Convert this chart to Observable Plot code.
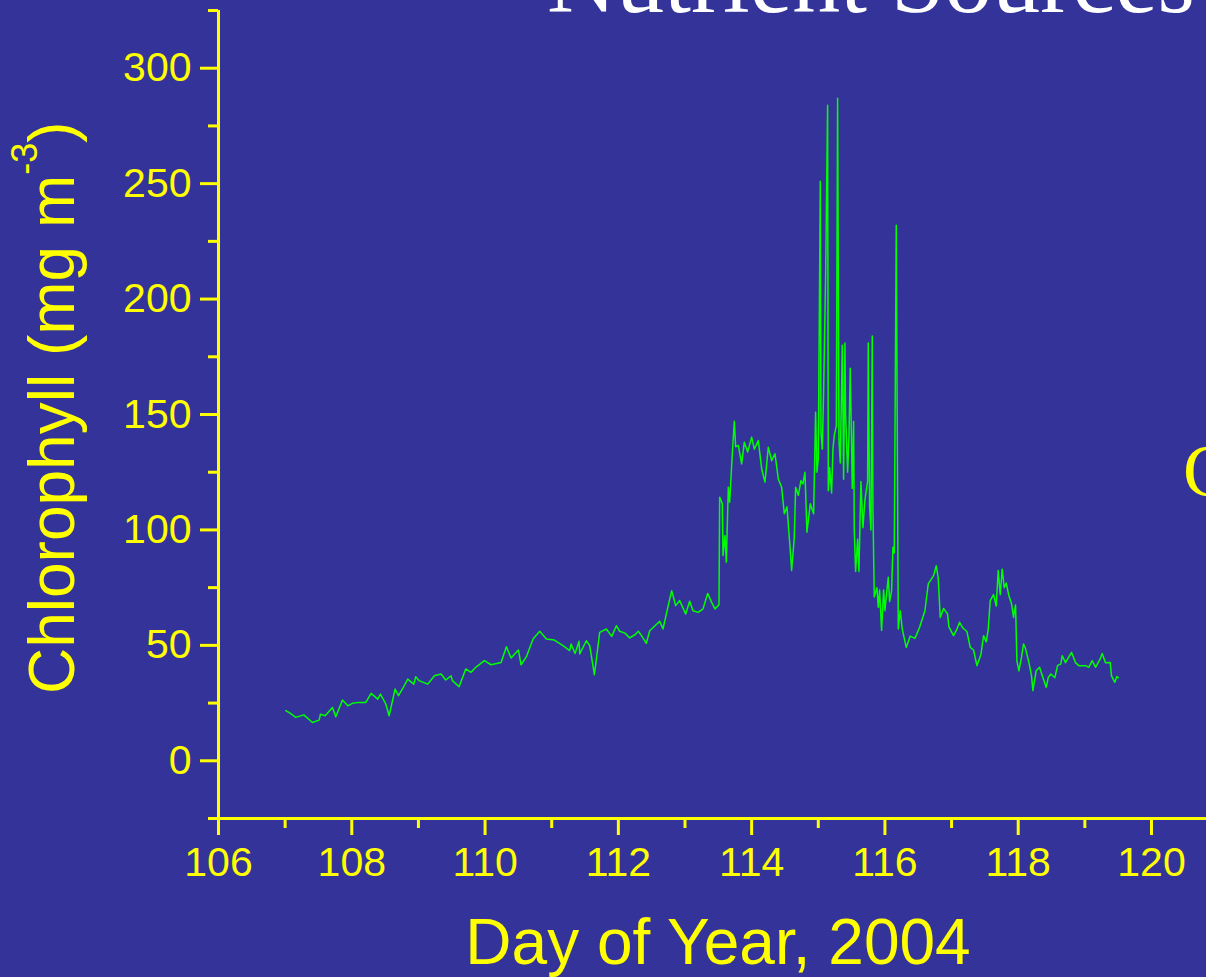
<!DOCTYPE html>
<html><head><meta charset="utf-8">
<script src="https://cdn.jsdelivr.net/npm/d3@7"></script>
<script src="https://cdn.jsdelivr.net/npm/@observablehq/plot@0.6"></script>
<style>html,body{margin:0;padding:0;background:#333399;overflow:hidden;width:1206px;height:977px}</style>
</head><body><div id="chart"></div><script>
const day = [107.01,107.08,107.16,107.28,107.41,107.51,107.53,107.60,107.71,107.76,107.86,107.94,108.01,108.11,108.21,108.29,108.39,108.43,108.51,108.56,108.65,108.70,108.76,108.84,108.93,108.96,109.01,109.14,109.24,109.34,109.41,109.49,109.51,109.61,109.71,109.79,109.86,109.99,110.09,110.24,110.32,110.39,110.50,110.54,110.62,110.72,110.82,110.92,111.04,111.17,111.27,111.29,111.35,111.41,111.42,111.52,111.57,111.64,111.67,111.72,111.82,111.90,111.97,112.02,112.10,112.17,112.25,112.30,112.35,112.42,112.47,112.55,112.62,112.67,112.72,112.80,112.86,112.92,113.01,113.07,113.12,113.20,113.27,113.34,113.40,113.45,113.51,113.52,113.56,113.57,113.60,113.62,113.65,113.67,113.71,113.74,113.76,113.80,113.85,113.89,113.94,114.00,114.04,114.10,114.15,114.20,114.25,114.30,114.35,114.40,114.45,114.49,114.53,114.58,114.60,114.64,114.66,114.70,114.74,114.77,114.80,114.83,114.88,114.93,114.96,114.98,115.00,115.03,115.04,115.06,115.08,115.11,115.14,115.15,115.17,115.20,115.22,115.24,115.27,115.29,115.31,115.33,115.36,115.38,115.40,115.41,115.44,115.46,115.48,115.51,115.53,115.54,115.56,115.59,115.61,115.64,115.67,115.70,115.74,115.75,115.77,115.79,115.81,115.82,115.84,115.88,115.90,115.92,115.95,115.98,116.00,116.02,116.05,116.07,116.10,116.12,116.14,116.17,116.20,116.23,116.26,116.32,116.38,116.45,116.52,116.60,116.65,116.73,116.77,116.80,116.83,116.88,116.94,116.96,117.03,117.08,117.12,117.17,117.23,117.28,117.33,117.38,117.44,117.48,117.52,117.55,117.58,117.63,117.67,117.70,117.73,117.76,117.79,117.82,117.86,117.90,117.93,117.96,117.98,118.01,118.05,118.08,118.11,118.16,118.20,118.22,118.27,118.32,118.37,118.42,118.45,118.49,118.55,118.59,118.64,118.66,118.71,118.76,118.80,118.86,118.91,119.01,119.06,119.11,119.16,119.23,119.26,119.31,119.38,119.40,119.45,119.48,119.50];
const chl = [21.7,20.5,18.8,19.9,16.6,17.6,20.2,19.5,23.1,19.1,26.3,23.8,24.9,25.3,25.3,29.2,26.7,28.9,24.6,19.5,31.1,28.2,31.1,35.4,33.2,36.4,34.7,33.2,36.8,37.6,35.0,36.8,34.7,32.1,39.8,38.3,40.5,43.4,41.6,42.6,49.4,44.5,48.0,41.6,45.1,52.8,56.1,52.8,52.3,49.9,47.7,50.6,46.5,51.8,46.3,52.0,49.9,37.3,44,55.6,57.1,53.9,58.5,56.1,55.3,53.2,54.6,56.1,54.1,50.9,56.3,58.5,60.4,57.1,63.6,73.7,67.2,69.4,63.6,69.1,65,64.3,65.8,72.5,68.6,65.8,67.6,114.2,111.3,88.9,97.5,86,118.5,112,133,147.1,136,136.6,128.6,138,133.7,140.2,135,138.7,126.5,120.7,135.8,130,133,122.1,118.5,107,110,91,82.4,96.8,118.5,115,121.4,120,125,99,111.3,107,151,125,131,251,142,135,160,210,284,117,127,116,135,141,145,287,139,129,180,122,181,150,125,140,170,118,147,100,82,96,82,121,101,113,121,181,110,100,184,109,71,75,66.5,74,56.4,74,65,71,79.5,69,73.7,92.5,90,232,57.1,65,57,49.1,54,53,57.8,65,76.6,80.2,84.5,79,62.1,66,63.6,58,54.2,57,60,57.5,56,49.1,48,41.2,46,54.2,51.5,57,69.4,72,67,82.4,72,83,75,77,71.5,68,62.1,67.5,43.4,39,45,50.6,48.5,42.6,36.8,30.4,39,40.5,36.1,31.8,36,37.6,36,41.2,42,45.5,42.5,45,47,42.5,41.2,41.2,40.5,43.4,40.5,44.1,46.5,42.5,42.6,36.8,34,36.5,36];
const xMajor = [106,108,110,112,114,116,118,120];
const xMinor = [107,109,111,113,115,117,119];
const yMajor = [0,50,100,150,200,250,300];
const yMinor = [-25,25,75,125,175,225,275,325];
const xTitle = "Day of Year, 2004";
const yTitleMain = "Chlorophyll (mg m";
const yTitleSup = "-3";
const yTitleEnd = ")";
const slideTitle = "Nutrient Sources";
const sideText = "C";

const data = day.map((d, i) => ({day: d, chl: chl[i]}));
const YEL = "#ffff00", BG = "#333399";

const plot = Plot.plot({
  width: 1206, height: 977,
  marginLeft: 218, marginRight: 55, marginTop: 10, marginBottom: 159,
  style: {background: BG, fontFamily: "'Liberation Sans', Arial, sans-serif", overflow: "visible"},
  x: {domain: [106, 120]},
  y: {domain: [-25, 325]},
  marks: [
    Plot.ruleY([-25], {x1: 106, x2: 121, stroke: YEL, strokeWidth: 3}),
    Plot.ruleX([106], {y1: -25, y2: 325, stroke: YEL, strokeWidth: 3}),
    Plot.axisX({ticks: xMajor, tickSize: 17, tickPadding: 11, fontSize: 41, color: YEL, strokeWidth: 3, label: null, tickFormat: d => String(d)}),
    Plot.axisX({ticks: xMinor, tickSize: 10, color: YEL, strokeWidth: 3, label: null, tickFormat: () => ""}),
    Plot.axisY({ticks: yMajor, tickSize: 18, tickPadding: 9, fontSize: 41, color: YEL, strokeWidth: 3, label: null, tickFormat: d => String(d)}),
    Plot.axisY({ticks: yMinor, tickSize: 10, color: YEL, strokeWidth: 3, label: null, tickFormat: () => ""}),
    Plot.line(data, {x: "day", y: "chl", stroke: "#00ff00", strokeWidth: 1.5}),
    Plot.text([xTitle], {frameAnchor: "bottom", dy: 145, dx: 33, lineAnchor: "bottom", fontSize: 64, fill: YEL, text: d => d})
  ]
});
document.getElementById("chart").appendChild(plot);

const svg = d3.select(plot);
const yt = svg.append("text")
  .attr("transform", "translate(74,694) rotate(-90)")
  .attr("fill", YEL)
  .attr("font-family", "'Liberation Sans', Arial, sans-serif")
  .attr("font-size", 64)
  .attr("text-anchor", "start");
yt.append("tspan").text(yTitleMain);
yt.append("tspan").attr("font-size", 36).attr("dy", -37).text(yTitleSup);
yt.append("tspan").attr("font-size", 64).attr("dy", 37).text(yTitleEnd);

svg.append("text")
  .attr("x", 547).attr("y", 12)
  .attr("text-anchor", "start")
  .attr("fill", "#ffffff")
  .attr("font-family", "'Liberation Serif', 'Times New Roman', serif")
  .attr("font-size", 96)
  .text(slideTitle);

svg.append("text")
  .attr("x", 1183).attr("y", 496)
  .attr("text-anchor", "start")
  .attr("fill", YEL)
  .attr("font-family", "'Liberation Serif', 'Times New Roman', serif")
  .attr("font-size", 73)
  .text(sideText);
</script></body></html>
